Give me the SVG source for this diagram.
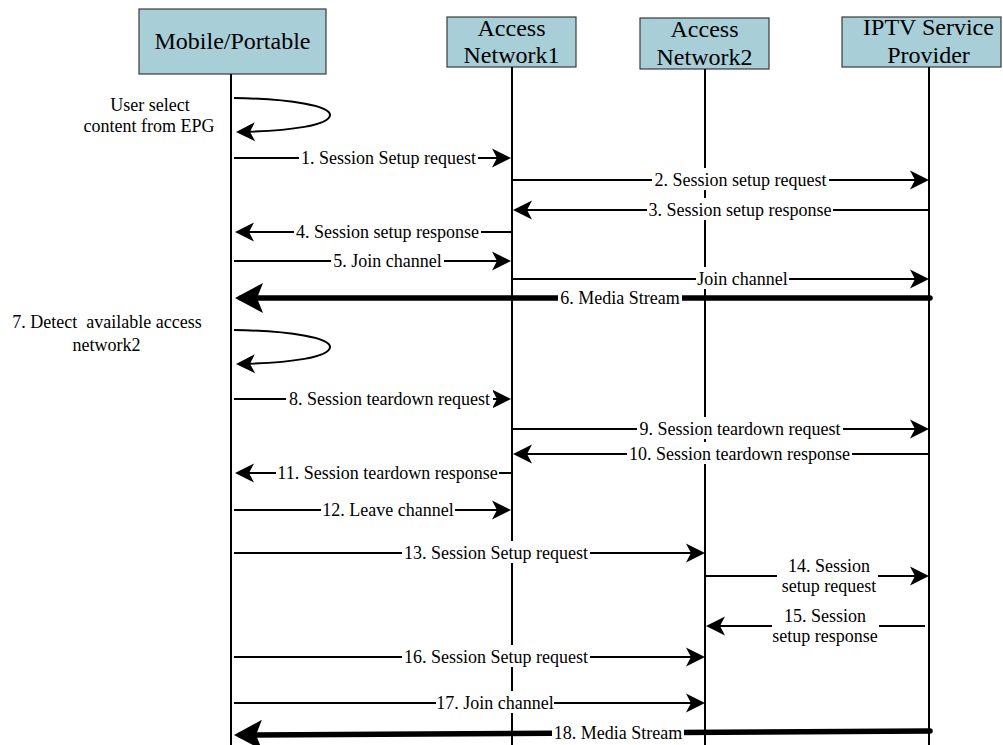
<svg xmlns="http://www.w3.org/2000/svg" width="1003" height="745" viewBox="0 0 1003 745">
<defs>
<style>
.box{fill:#A8CED8;stroke:#3a3a3a;stroke-width:1.2}
.hd{font-family:"Liberation Serif","Times New Roman",serif;font-size:24px;fill:#000;text-anchor:middle}
.life{stroke:#000;stroke-width:2}
.msg{stroke:#000;stroke-width:2;fill:none;marker-end:url(#ah)}
.stream{stroke:#000;stroke-width:5.5;fill:none;stroke-linecap:round;marker-end:url(#big)}
.lb{font-family:"Liberation Serif","Times New Roman",serif;font-size:18px;fill:#000;text-anchor:middle}
.bg{fill:#fff}
</style>
<marker id="ah" markerUnits="userSpaceOnUse" viewBox="-17 -10 21 20" refX="0" refY="0" markerWidth="21" markerHeight="20" orient="auto"><path d="M3,0 L-16,-9.5 L-11,0 L-16,9.5 Z" fill="#000"/></marker>
<marker id="big" markerUnits="userSpaceOnUse" viewBox="-23 -16 30 32" refX="0" refY="0" markerWidth="30" markerHeight="32" orient="auto"><path d="M6,0 L-22,-15 L-16,0 L-22,15 Z" fill="#000"/></marker>
</defs>
<rect width="1003" height="745" fill="#fff"/>
<g id="mobile">
<rect class="box" x="139" y="9" width="187" height="65"/>
<text class="hd" x="232.5" y="49">Mobile/Portable</text>
<line class="life" x1="231" y1="74" x2="231" y2="745"/>
</g>
<g id="access-network1">
<rect class="box" x="447" y="17" width="129" height="50"/>
<text class="hd" x="511.5" y="36">Access</text>
<text class="hd" x="511.5" y="63">Network1</text>
<line class="life" x1="512" y1="67" x2="512" y2="745"/>
</g>
<g id="access-network2">
<rect class="box" x="640" y="18" width="129" height="51"/>
<text class="hd" x="704.5" y="37">Access</text>
<text class="hd" x="704.5" y="65">Network2</text>
<line class="life" x1="705" y1="69" x2="705" y2="745"/>
</g>
<g id="iptv-provider">
<rect class="box" x="842" y="17" width="159" height="50"/>
<text class="hd" x="928.5" y="35">IPTV Service</text>
<text class="hd" x="928.5" y="63">Provider</text>
<line class="life" x1="929" y1="67" x2="929" y2="745"/>
</g>
<g id="connectors">
<path class="msg" d="M234,98 C292,99 330,106 330,115 C330,125 292,131 239,132"/>
<line class="msg" x1="234" y1="158" x2="508" y2="158"/>
<line class="msg" x1="512" y1="180" x2="926" y2="180"/>
<line class="msg" x1="929" y1="210" x2="516" y2="210"/>
<line class="msg" x1="511" y1="232" x2="238" y2="232"/>
<line class="msg" x1="234" y1="261" x2="508" y2="261"/>
<line class="msg" x1="512" y1="279" x2="926" y2="279"/>
<line class="stream" x1="930" y1="298" x2="241" y2="298"/>
<path class="msg" d="M234,330 C292,331 330,338 330,347 C330,357 292,363 239,364"/>
<line class="msg" x1="234" y1="399" x2="508" y2="399"/>
<line class="msg" x1="512" y1="429" x2="926" y2="429"/>
<line class="msg" x1="929" y1="454" x2="516" y2="454"/>
<line class="msg" x1="511" y1="473" x2="238" y2="473"/>
<line class="msg" x1="234" y1="510" x2="508" y2="510"/>
<line class="msg" x1="234" y1="553" x2="702" y2="553"/>
<line class="msg" x1="705" y1="576" x2="926" y2="576"/>
<line class="msg" x1="925" y1="626" x2="709" y2="626"/>
<line class="msg" x1="234" y1="657" x2="702" y2="657"/>
<line class="msg" x1="234" y1="703" x2="702" y2="703"/>
<line class="stream" x1="930" y1="731" x2="240" y2="735"/>

<text class="lb" x="150" y="111">User select</text>
<text class="lb" x="149" y="132">content from EPG</text>
<text class="lb" x="107" y="328" xml:space="preserve">7. Detect  available access</text>
<text class="lb" x="106.5" y="351">network2</text>

<rect class="bg" x="299" y="146" width="179" height="22"/><text class="lb" x="388.5" y="164">1. Session Setup request</text>
<rect class="bg" x="652" y="168" width="177" height="22"/><text class="lb" x="740.5" y="186">2. Session setup request</text>
<rect class="bg" x="647" y="198" width="186" height="22"/><text class="lb" x="740" y="216">3. Session setup response</text>
<rect class="bg" x="294" y="220" width="187" height="22"/><text class="lb" x="387.5" y="238">4. Session setup response</text>
<rect class="bg" x="331" y="249" width="113" height="22"/><text class="lb" x="387.5" y="267">5. Join channel</text>
<rect class="bg" x="696" y="267" width="93" height="22"/><text class="lb" x="742.5" y="285">Join channel</text>
<rect class="bg" x="558" y="286" width="124" height="22"/><text class="lb" x="620" y="304">6. Media Stream</text>
<rect class="bg" x="286" y="387" width="207" height="22"/><text class="lb" x="389.5" y="405">8. Session teardown request</text>
<rect class="bg" x="637" y="417" width="206" height="22"/><text class="lb" x="740" y="435">9. Session teardown request</text>
<rect class="bg" x="627" y="442" width="225" height="22"/><text class="lb" x="739.5" y="460">10. Session teardown response</text>
<rect class="bg" x="276" y="461" width="223" height="22"/><text class="lb" x="387.5" y="479">11. Session teardown response</text>
<rect class="bg" x="321" y="498" width="134" height="22"/><text class="lb" x="388" y="516">12. Leave channel</text>
<rect class="bg" x="402" y="541" width="188" height="22"/><text class="lb" x="496" y="559">13. Session Setup request</text>
<rect class="bg" x="777" y="556" width="101" height="41"/><text class="lb" x="829" y="572">14. Session</text><text class="lb" x="829" y="592">setup request</text>
<rect class="bg" x="772" y="606" width="107" height="41"/><text class="lb" x="825" y="622">15. Session</text><text class="lb" x="825" y="642">setup response</text>
<rect class="bg" x="402" y="645" width="188" height="22"/><text class="lb" x="496" y="663">16. Session Setup request</text>
<rect class="bg" x="436" y="691" width="118" height="22"/><text class="lb" x="495" y="709">17. Join channel</text>
<rect class="bg" x="552" y="721" width="132" height="22"/><text class="lb" x="618" y="739">18. Media Stream</text>
</g>
</svg>
